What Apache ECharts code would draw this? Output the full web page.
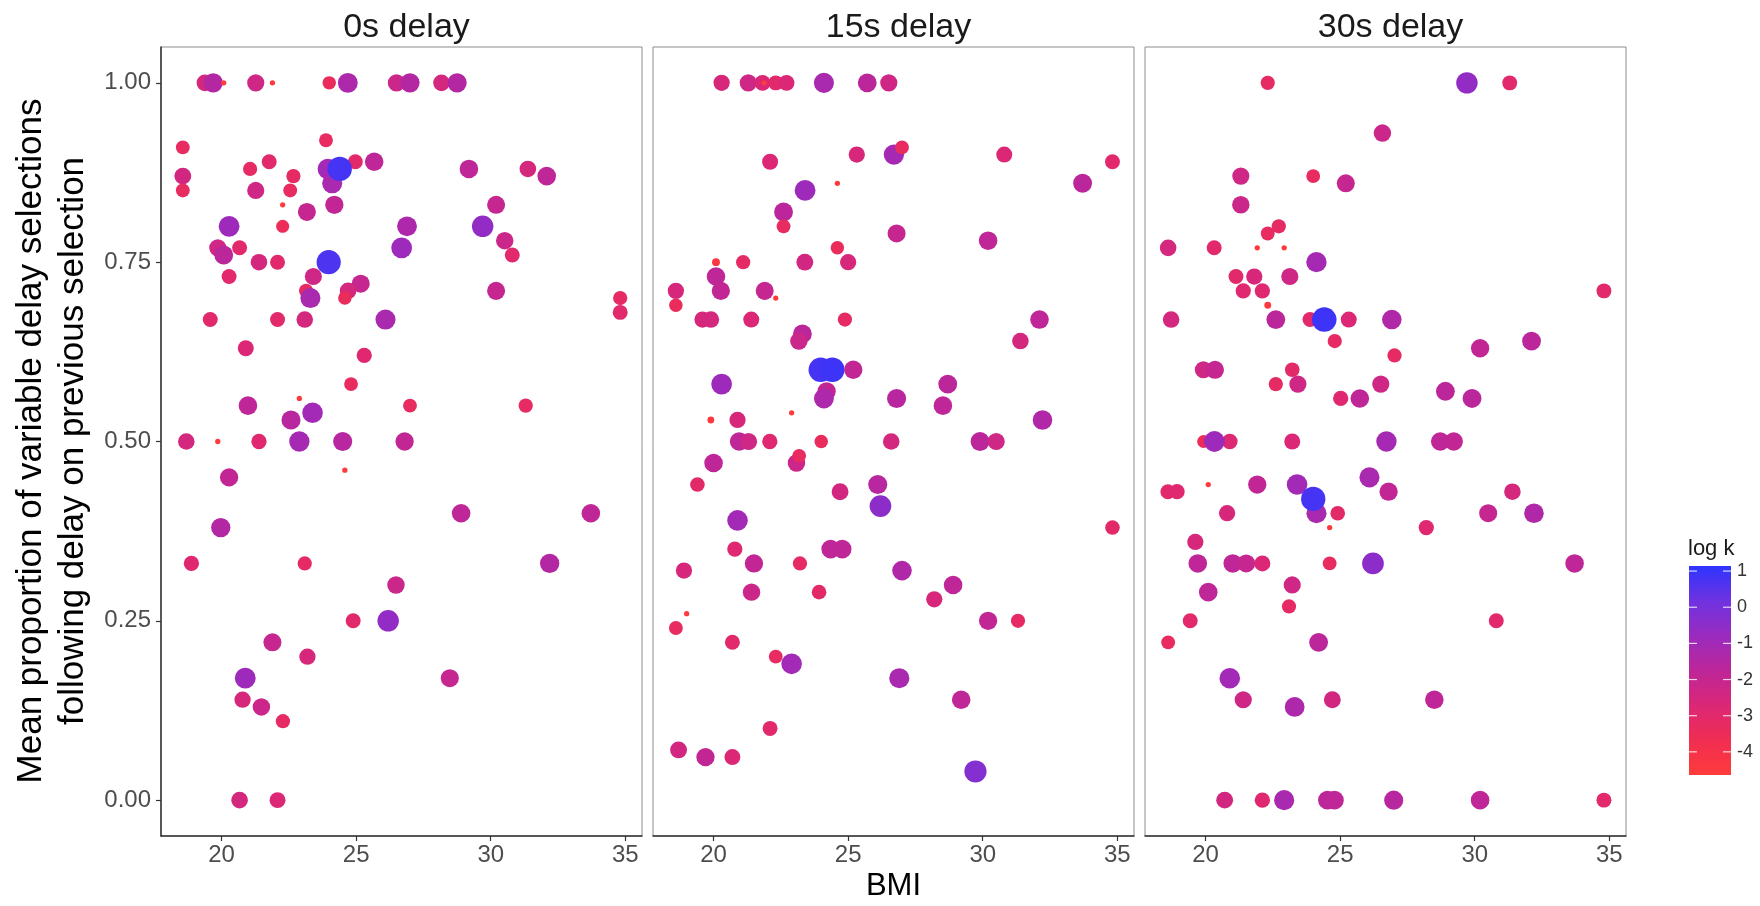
<!DOCTYPE html>
<html>
<head>
<meta charset="utf-8">
<script src="https://cdn.jsdelivr.net/npm/echarts@6.0.0/dist/echarts.min.js"></script>
<style>html,body{margin:0;padding:0;background:#fff}</style>
</head>
<body>
<div id="chartmain" style="width:1760px;height:906px"></div>
<script type="text/javascript">
    // facets
    var panels = ['0s delay', '15s delay', '30s delay'];
    var bmiTicks = [20, 25, 30, 35];
    var propTicks = [0, 0.25, 0.5, 0.75, 1];
    var legendTicks = [1, 0, -1, -2, -3, -4];
    var logkMin = -4.64, logkMax = 1.14;
    var logkColors = ['#ff3b3b', '#f02e52', '#db2776', '#bd2699', '#9a2bbf', '#6f32e0', '#2e35ff'];

    // [BMI, mean proportion, log k]
    var delay0 = [
        [19.38, 1.00, -2.5], [19.69, 1.00, -1.5], [20.08, 1.00, -4.6], [21.27, 1.00, -2.3], [21.89, 1.00, -4.6], [24.0, 1.00, -3.4], [24.69, 1.00, -1.3], [26.5, 1.00, -2.2], [27.0, 1.00, -1.5], [28.17, 1.00, -2.5], [28.75, 1.00, -1.5],
        [18.56, 0.91, -3.3], [23.88, 0.92, -3.3], [21.77, 0.89, -3.0], [24.97, 0.89, -3.0], [25.67, 0.89, -1.8], [21.06, 0.88, -3.2], [22.67, 0.87, -3.2], [23.95, 0.88, -1.0], [24.11, 0.86, -1.2], [24.39, 0.88, 0.8], [18.56, 0.87, -2.4], [18.56, 0.85, -3.3], [21.27, 0.85, -2.3], [22.55, 0.85, -3.3], [29.19, 0.88, -1.8], [31.38, 0.88, -2.5], [32.08, 0.87, -1.8],
        [22.27, 0.83, -4.6], [23.17, 0.82, -2.0], [24.19, 0.83, -1.9], [30.2, 0.83, -2.0], [22.27, 0.80, -3.5], [20.28, 0.80, -0.9], [26.89, 0.80, -1.3], [29.7, 0.80, -0.6],
        [19.86, 0.77, -2.3], [20.08, 0.76, -1.7], [20.67, 0.77, -3.0], [30.52, 0.78, -2.2], [30.8, 0.76, -3.0], [26.69, 0.77, -0.9], [21.39, 0.75, -2.5], [22.08, 0.75, -3.0], [23.98, 0.75, 0.7],
        [20.28, 0.73, -3.0], [23.41, 0.73, -2.3], [25.17, 0.72, -2.0], [24.7, 0.71, -2.5], [24.58, 0.70, -3.4], [23.14, 0.71, -3.2], [23.3, 0.70, -1.2], [30.2, 0.71, -2.0], [34.81, 0.70, -3.2], [34.81, 0.68, -3.0],
        [19.58, 0.67, -3.0], [22.08, 0.67, -3.0], [23.09, 0.67, -2.5], [26.09, 0.67, -1.2], [20.9, 0.63, -2.7], [25.3, 0.62, -2.9], [24.81, 0.58, -3.3],
        [20.98, 0.55, -1.8], [22.89, 0.56, -4.6], [27.0, 0.55, -3.3], [31.3, 0.55, -3.2], [23.38, 0.54, -1.0], [22.58, 0.53, -1.6],
        [18.69, 0.50, -2.5], [19.86, 0.50, -4.6], [21.39, 0.50, -2.9], [22.89, 0.50, -1.1], [24.5, 0.50, -1.6], [26.8, 0.50, -1.9], [24.58, 0.46, -4.6],
        [20.28, 0.45, -1.9], [19.97, 0.38, -1.5], [28.9, 0.40, -1.8], [33.72, 0.40, -1.8], [18.88, 0.33, -2.9], [23.09, 0.33, -3.2], [32.19, 0.33, -1.5], [26.48, 0.30, -2.2],
        [24.89, 0.25, -3.0], [26.19, 0.25, -0.6], [21.89, 0.22, -2.0], [23.19, 0.20, -2.6], [20.88, 0.17, -0.9], [28.48, 0.17, -2.0], [20.78, 0.14, -2.6], [21.48, 0.13, -2.2], [22.28, 0.11, -3.2],
        [20.67, 0.00, -2.5], [22.08, 0.00, -2.7]
    ];
    var delay15 = [
        [20.3, 1.00, -2.6], [21.29, 1.00, -2.3], [21.82, 1.00, -2.7], [21.88, 1.00, -4.6], [22.31, 1.00, -3.0], [22.71, 1.00, -2.7], [24.1, 1.00, -1.2], [25.71, 1.00, -1.7], [26.51, 1.00, -2.3],
        [25.32, 0.90, -2.6], [26.7, 0.90, -1.1], [27.0, 0.91, -3.3], [30.8, 0.90, -2.7], [22.1, 0.89, -2.7], [34.82, 0.89, -3.0], [24.6, 0.86, -4.6], [23.4, 0.85, -0.9], [33.71, 0.86, -1.7],
        [22.6, 0.82, -1.7], [22.6, 0.80, -3.3], [26.8, 0.79, -2.0], [30.2, 0.78, -1.8], [24.6, 0.77, -3.4],
        [20.09, 0.75, -4.4], [21.1, 0.75, -3.2], [23.39, 0.75, -2.4], [25.0, 0.75, -2.6], [20.09, 0.73, -1.8], [20.27, 0.71, -1.9], [21.9, 0.71, -2.0], [22.31, 0.70, -4.6], [18.6, 0.71, -2.6], [18.6, 0.69, -3.4],
        [19.59, 0.67, -2.6], [19.9, 0.67, -2.5], [21.4, 0.67, -2.7], [24.88, 0.67, -3.2], [32.11, 0.67, -1.8], [23.3, 0.65, -1.7], [23.17, 0.64, -2.2], [31.4, 0.64, -2.5],
        [23.98, 0.60, 0.8], [24.41, 0.60, 0.9], [25.19, 0.60, -1.9], [20.3, 0.58, -0.9], [24.2, 0.57, -1.9], [24.1, 0.56, -1.3], [28.7, 0.58, -1.7], [26.8, 0.56, -1.6], [28.52, 0.55, -1.8],
        [19.9, 0.53, -4.5], [20.89, 0.53, -2.6], [22.9, 0.54, -4.6], [32.22, 0.53, -1.4],
        [20.95, 0.50, -1.8], [21.3, 0.50, -2.3], [22.09, 0.50, -2.9], [24.0, 0.50, -3.4], [26.6, 0.50, -2.5], [29.9, 0.50, -1.7], [30.5, 0.50, -2.3],
        [20.0, 0.47, -1.8], [23.08, 0.47, -2.2], [23.18, 0.48, -3.3],
        [19.4, 0.44, -3.1], [24.7, 0.43, -2.4], [26.1, 0.44, -1.6], [26.2, 0.41, -0.5], [20.89, 0.39, -1.0], [34.82, 0.38, -3.1], [20.79, 0.35, -2.9], [24.35, 0.35, -1.8], [24.78, 0.35, -1.8],
        [18.9, 0.32, -2.6], [21.5, 0.33, -1.9], [23.21, 0.33, -3.2], [27.0, 0.32, -1.4], [28.9, 0.30, -1.8], [28.2, 0.28, -2.6], [19.0, 0.26, -4.6], [18.6, 0.24, -3.3], [21.41, 0.29, -2.2], [23.92, 0.29, -3.1],
        [30.2, 0.25, -1.9], [31.31, 0.25, -3.2], [20.7, 0.22, -3.0], [22.31, 0.20, -3.3], [22.9, 0.19, -1.0], [26.9, 0.17, -1.2], [29.2, 0.14, -1.8], [22.1, 0.10, -3.0],
        [18.7, 0.07, -2.4], [19.7, 0.06, -1.9], [20.7, 0.06, -2.7], [29.73, 0.04, -0.3]
    ];
    var delay30 = [
        [22.31, 1.00, -3.2], [29.71, 1.00, -0.6], [31.3, 1.00, -3.0], [26.57, 0.93, -2.2], [21.31, 0.87, -2.3], [24.0, 0.87, -3.3], [25.21, 0.86, -2.0], [21.31, 0.83, -2.2], [22.72, 0.80, -3.2], [22.31, 0.79, -3.3],
        [18.61, 0.77, -2.5], [20.32, 0.77, -3.0], [21.92, 0.77, -4.6], [22.92, 0.77, -4.6], [24.12, 0.75, -1.1], [21.13, 0.73, -3.0], [21.81, 0.73, -2.6], [23.13, 0.73, -2.3], [21.4, 0.71, -2.9], [22.11, 0.71, -2.9], [22.31, 0.69, -4.5], [34.8, 0.71, -3.0],
        [18.72, 0.67, -2.5], [22.61, 0.67, -1.7], [23.88, 0.67, -3.0], [24.41, 0.67, 0.9], [25.32, 0.67, -2.7], [26.92, 0.67, -1.4], [24.8, 0.64, -3.2], [27.02, 0.62, -3.2], [30.2, 0.63, -1.9], [32.11, 0.64, -1.7],
        [19.92, 0.60, -2.3], [20.35, 0.60, -2.0], [23.22, 0.60, -3.1], [22.61, 0.58, -3.2], [23.43, 0.58, -2.3], [26.51, 0.58, -2.3], [25.02, 0.56, -2.9], [25.73, 0.56, -1.8], [28.91, 0.57, -1.7], [29.9, 0.56, -1.7],
        [19.93, 0.50, -3.5], [20.9, 0.50, -2.8], [20.33, 0.50, -0.9], [23.22, 0.50, -2.7], [26.72, 0.50, -1.1], [28.72, 0.50, -1.8], [29.22, 0.50, -1.9],
        [26.09, 0.45, -1.2], [23.4, 0.44, -1.0], [24.12, 0.40, -1.2], [24.0, 0.42, 0.8], [18.6, 0.43, -3.0], [18.94, 0.43, -2.9], [20.1, 0.44, -4.6], [21.92, 0.44, -1.9], [26.8, 0.43, -1.9], [31.4, 0.43, -2.5],
        [20.8, 0.40, -2.6], [24.91, 0.40, -3.1], [30.5, 0.40, -2.0], [32.2, 0.40, -1.4], [24.61, 0.38, -4.6], [28.2, 0.38, -2.9], [19.62, 0.36, -2.6],
        [19.71, 0.33, -1.8], [21.01, 0.33, -1.8], [21.51, 0.33, -2.0], [22.11, 0.33, -2.7], [24.61, 0.33, -3.3], [26.22, 0.33, -0.5], [33.71, 0.33, -1.8], [23.22, 0.30, -2.3], [20.1, 0.29, -1.8], [23.1, 0.27, -3.2],
        [19.43, 0.25, -3.0], [30.8, 0.25, -3.0], [18.61, 0.22, -3.3], [24.2, 0.22, -1.7], [20.9, 0.17, -1.0], [21.4, 0.14, -2.3], [23.31, 0.13, -1.3], [24.71, 0.14, -2.4], [28.5, 0.14, -1.8],
        [20.71, 0.00, -2.4], [22.11, 0.00, -2.9], [22.92, 0.00, -1.2], [24.53, 0.00, -1.7], [24.79, 0.00, -1.8], [26.99, 0.00, -1.6], [30.2, 0.00, -1.8], [34.8, 0.00, -3.0]
    ];
    var panelData = [delay0, delay15, delay30];

    var font = '"Liberation Sans", Arial, sans-serif';
    var gridLeft = [161, 653, 1145];
    var gridTop = 47, gridW = 481, gridH = 789;
    var bar = { x: 1689, y: 566, w: 42, h: 209 };

    // size grows with log k (area-like scaling)
    function pointSize(v) {
        var t = Math.max(0, (v[2] - logkMin) / (logkMax - logkMin));
        return 3.5 + 21.5 * Math.sqrt(t);
    }

    var grids = [], xAxes = [], yAxes = [], series = [], titles = [];
    for (var i = 0; i < 3; i++) {
        grids.push({ left: gridLeft[i], top: gridTop, width: gridW, height: gridH, show: true,
            borderColor: '#8c8c8c', borderWidth: 1, containLabel: false, outerBoundsMode: 'none' });
        xAxes.push({
            type: 'value', gridIndex: i, min: 17.75, max: 35.62,
            axisLine: { show: true, onZero: false, lineStyle: { color: '#333', width: 1.5 } },
            axisTick: { show: true, length: 5, customValues: bmiTicks, lineStyle: { color: '#333', width: 1.2 } },
            axisLabel: { customValues: bmiTicks, fontSize: 24, color: '#4d4d4d', margin: 7, fontFamily: font },
            splitLine: { show: false }
        });
        yAxes.push({
            type: 'value', gridIndex: i, min: -0.05, max: 1.05,
            axisLine: { show: i === 0, onZero: false, lineStyle: { color: '#333', width: 1.5 } },
            axisTick: { show: i === 0, length: 5, customValues: propTicks, lineStyle: { color: '#333', width: 1.2 } },
            axisLabel: { show: i === 0, customValues: propTicks, fontSize: 24, color: '#4d4d4d', margin: 10, fontFamily: font,
                formatter: function (v) { return v.toFixed(2); } },
            splitLine: { show: false }
        });
        series.push({
            type: 'scatter', xAxisIndex: i, yAxisIndex: i,
            data: panelData[i], symbolSize: pointSize,
            itemStyle: { opacity: 1 },
            emphasis: { disabled: true }
        });
        titles.push({
            text: panels[i], left: gridLeft[i] + gridW / 2, top: 6, textAlign: 'center',
            textStyle: { fontSize: 34, fontWeight: 'normal', color: '#1a1a1a', fontFamily: font }
        });
    }

    // colour bar legend
    var graphics = [];
    var stops = logkColors.map(function (c, k) {
        return { offset: 1 - k / (logkColors.length - 1), color: c };
    }).reverse();
    graphics.push({
        type: 'rect', shape: { x: bar.x, y: bar.y, width: bar.w, height: bar.h },
        style: { fill: new echarts.graphic.LinearGradient(0, 0, 0, 1, stops) }
    });
    legendTicks.forEach(function (v) {
        var y = bar.y + (logkMax - v) / (logkMax - logkMin) * bar.h;
        graphics.push({ type: 'line', shape: { x1: bar.x, y1: y, x2: bar.x + 8, y2: y }, style: { stroke: 'rgba(255,255,255,0.8)', lineWidth: 1.2 } });
        graphics.push({ type: 'line', shape: { x1: bar.x + bar.w - 8, y1: y, x2: bar.x + bar.w, y2: y }, style: { stroke: 'rgba(255,255,255,0.8)', lineWidth: 1.2 } });
        graphics.push({ type: 'text', x: bar.x + bar.w + 6, y: y,
            style: { text: String(v), fontSize: 18, fill: '#333', textVerticalAlign: 'middle', fontFamily: font } });
    });
    graphics.push({ type: 'text', x: bar.x - 1, y: 549,
        style: { text: 'log k', fontSize: 22, fill: '#1a1a1a', textVerticalAlign: 'middle', fontFamily: font } });
    // axis titles
    graphics.push({ type: 'text', x: 52, y: 441, rotation: Math.PI / 2,
        style: { text: 'Mean proportion of variable delay selections\nfollowing delay on previous selection',
            textAlign: 'center', textVerticalAlign: 'middle', fontSize: 35, lineHeight: 42, fill: '#000', fontFamily: font } });
    graphics.push({ type: 'text', x: gridLeft[1] + gridW / 2, y: 886,
        style: { text: 'BMI', textAlign: 'center', textVerticalAlign: 'middle', fontSize: 31, fill: '#000', fontFamily: font } });

    var option = {
        animation: false,
        backgroundColor: '#fff',
        title: titles,
        grid: grids,
        xAxis: xAxes,
        yAxis: yAxes,
        visualMap: {
            type: 'continuous', show: false, dimension: 2, seriesIndex: [0, 1, 2],
            min: logkMin, max: logkMax, inRange: { color: logkColors }
        },
        series: series,
        graphic: graphics
    };
    var myChart = echarts.init(document.getElementById('chartmain'));
    myChart.setOption(option);
</script>
</body>
</html>
